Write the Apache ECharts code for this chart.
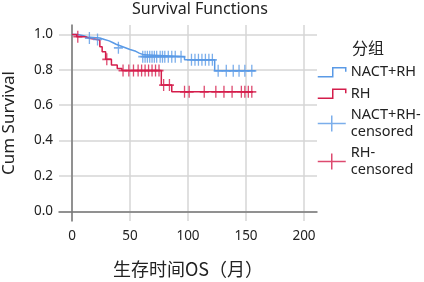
<!DOCTYPE html>
<html>
<head>
<meta charset="utf-8">
<script src="https://cdn.jsdelivr.net/npm/echarts@6/dist/echarts.min.js"></script>
<style>
  html, body { margin: 0; padding: 0; background: #fff; }
  #main { width: 424px; height: 282px; }
</style>
</head>
<body>
<div id="main"></div>
<script>
// step curves, [time, cumulative survival after the step]
var nactSteps = [[0, 1.0], [5, 0.993], [10, 0.986], [13, 0.98], [24, 0.972], [28, 0.964], [32, 0.955],
    [35, 0.945], [38, 0.935], [42, 0.925], [46, 0.915], [50, 0.905], [55, 0.895], [58, 0.885],
    [62, 0.875], [97, 0.857], [123, 0.795], [158, 0.795]];
var rhSteps = [[0, 1.0], [4, 0.988], [11, 0.978], [16, 0.969], [24, 0.931], [26, 0.903], [29, 0.86],
    [34, 0.827], [39, 0.808], [43, 0.796], [77, 0.714], [86, 0.676], [156, 0.676]];

// censored marks
var nactCensored = [[15, 0.98], [22, 0.972], [40, 0.925], [61, 0.875], [63, 0.875], [65, 0.875], [67, 0.875],
    [69, 0.875], [71, 0.875], [73, 0.875], [76, 0.875], [78, 0.875], [80, 0.875], [83, 0.875],
    [86, 0.875], [89, 0.875], [94, 0.875], [103, 0.857], [106, 0.857], [109, 0.857], [112, 0.857],
    [115, 0.857], [118, 0.857], [121, 0.857], [126, 0.795], [133, 0.795], [139, 0.795],
    [144, 0.795], [149, 0.795], [155, 0.795]];
var rhCensored = [[5, 0.988], [30, 0.86], [44, 0.796], [49, 0.796], [53, 0.796], [57, 0.796], [60, 0.796],
    [63, 0.796], [66, 0.796], [69, 0.796], [72, 0.796], [75, 0.796], [79, 0.714], [84, 0.714],
    [97, 0.676], [101, 0.676], [114, 0.676], [124, 0.676], [131, 0.676], [138, 0.676],
    [146, 0.676], [149, 0.676], [152, 0.676], [155, 0.676]];

var xTicks = [0, 50, 100, 150, 200];
var yTicks = [0, 0.2, 0.4, 0.6, 0.8, 1.0];
var groupNames = ['NACT+RH', 'RH', 'NACT+RH-\ncensored', 'RH-\ncensored'];

var blue = '#5a9ae6';
var red = '#d41d4b';
var font = 'Noto Sans, sans-serif';
var plusPath = 'path://M5,0L5,12M0,6L10,6';
var stepIcon = 'path://M0,0M0,16M0,12.5L15,12.5L15,3.5L28,3.5L28,7.5';
var plusIcon = 'path://M0,8L28,8M14,0L14,16';

var chart = echarts.init(document.getElementById('main'));

var option = {
    backgroundColor: '#fff',
    animation: false,
    title: [
        {
            text: 'Survival Functions',
            left: 132,
            top: 0,
            padding: 0,
            textStyle: { fontFamily: font, fontSize: 16, fontWeight: 'normal', color: '#222', lineHeight: 19 }
        },
        {
            text: '分组',
            left: 352,
            top: 38,
            padding: 0,
            textStyle: { fontFamily: 'Noto Sans CJK SC', fontSize: 16, fontWeight: 'normal', color: '#222', lineHeight: 20 }
        }
    ],
    legend: {
        orient: 'vertical',
        left: 317,
        top: 63.5,
        padding: 0,
        itemWidth: 28,
        itemHeight: 16,
        itemGap: 4,
        textStyle: { fontFamily: font, fontSize: 14.5, color: '#222', lineHeight: 17, padding: [0, 0, 0, 0] },
        data: [
            { name: groupNames[0], icon: stepIcon, itemStyle: { color: 'transparent', borderColor: blue, borderWidth: 1.5 } },
            { name: groupNames[1], icon: stepIcon, itemStyle: { color: 'transparent', borderColor: red, borderWidth: 1.5 } },
            { name: groupNames[2], icon: plusIcon, itemStyle: { color: 'transparent', borderColor: blue, borderWidth: 1.5 } },
            { name: groupNames[3], icon: plusIcon, itemStyle: { color: 'transparent', borderColor: red, borderWidth: 1.5 } }
        ]
    },
    grid: { left: 59, right: 107, top: 25, bottom: 61, outerBoundsMode: 'none' },
    xAxis: {
        type: 'value',
        min: -11.2,
        max: 211.2,
        name: '生存时间OS（月）',
        nameLocation: 'middle',
        nameGap: 39,
        nameTextStyle: { fontFamily: 'Noto Sans CJK SC', fontSize: 18, color: '#222' },
        axisLine: { show: true, lineStyle: { color: '#777', width: 1.5 } },
        axisTick: { show: false, customValues: xTicks },
        axisLabel: { customValues: xTicks, margin: 8, fontFamily: font, fontSize: 13.5, color: '#222' },
        splitLine: { show: true, lineStyle: { color: '#d6d6d6', width: 1.5 } }
    },
    yAxis: {
        type: 'value',
        min: -0.055,
        max: 1.054,
        name: 'Cum Survival',
        nameLocation: 'middle',
        nameGap: 41,
        nameTextStyle: { fontFamily: font, fontSize: 17, color: '#222' },
        axisLine: { show: true, lineStyle: { color: '#777', width: 1.5 } },
        axisTick: { show: false, customValues: yTicks },
        axisLabel: {
            customValues: yTicks, margin: 6, fontFamily: font, fontSize: 13.5, color: '#222',
            formatter: function (v) { return v.toFixed(1); }
        },
        splitLine: { show: true, lineStyle: { color: '#d6d6d6', width: 1.5 } }
    },
    series: [
        {
            name: groupNames[0],
            type: 'line',
            step: 'end',
            showSymbol: false,
            symbol: 'none',
            data: nactSteps,
            itemStyle: { color: blue },
            lineStyle: { color: blue, width: 1.5 },
            z: 3
        },
        {
            name: groupNames[1],
            type: 'line',
            step: 'end',
            showSymbol: false,
            symbol: 'none',
            data: rhSteps,
            itemStyle: { color: red },
            lineStyle: { color: red, width: 1.5 },
            z: 3
        },
        {
            name: groupNames[2],
            type: 'scatter',
            symbol: plusPath,
            symbolSize: [9, 12],
            data: nactCensored,
            itemStyle: { color: 'transparent', borderColor: blue, borderWidth: 1.5 },
            z: 4
        },
        {
            name: groupNames[3],
            type: 'scatter',
            symbol: plusPath,
            symbolSize: [9, 12],
            data: rhCensored,
            itemStyle: { color: 'transparent', borderColor: red, borderWidth: 1.5 },
            z: 4
        }
    ]
};

chart.setOption(option);
</script>
</body>
</html>
